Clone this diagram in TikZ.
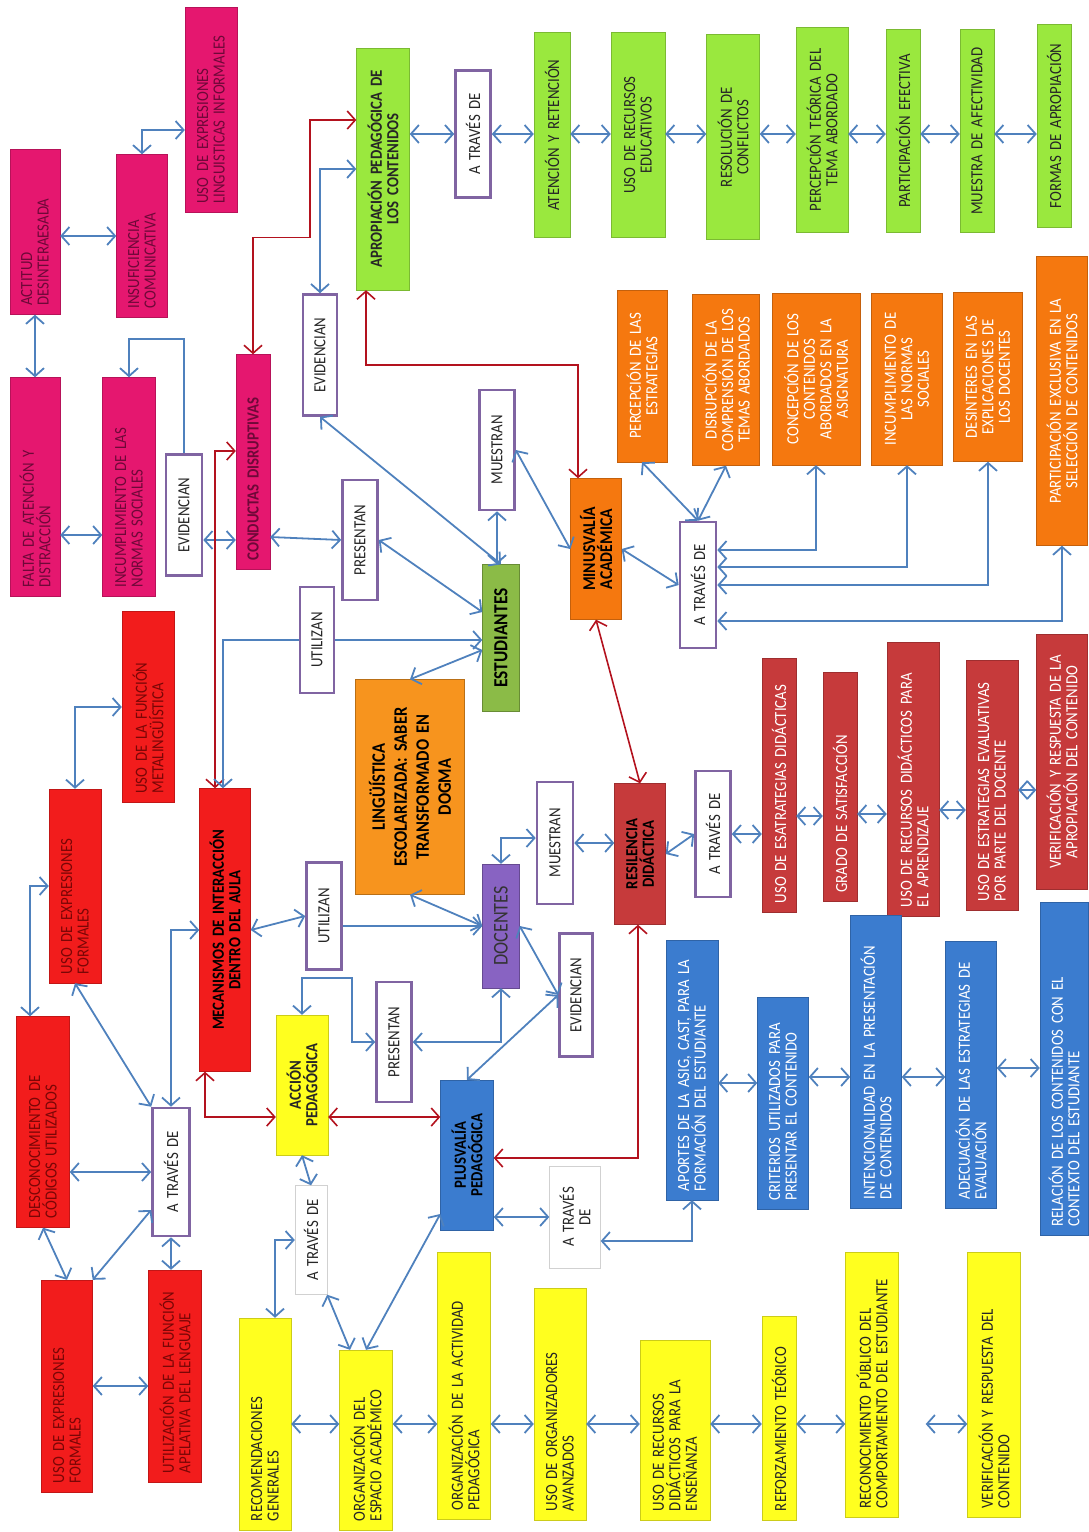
\documentclass[tikz,border=0pt]{standalone}
\usepackage{fontspec}
\setmainfont{Carlito}[FakeStretch=0.87, WordSpace=0.8]
\usetikzlibrary{arrows.meta}

\definecolor{pinkfill}{HTML}{E5176F}
\definecolor{pinktext}{HTML}{6E0838}
\definecolor{redfill}{HTML}{F21C1C}
\definecolor{redtext}{HTML}{7A0606}
\definecolor{limefill}{HTML}{9AE83E}
\definecolor{orangefill}{HTML}{F5780F}
\definecolor{brickfill}{HTML}{C63A3B}
\definecolor{bluefill}{HTML}{3B7CCF}
\definecolor{yellowfill}{HTML}{FFFF1F}
\definecolor{olivefill}{HTML}{8BBB47}
\definecolor{violetfill}{HTML}{8863C2}
\definecolor{amberfill}{HTML}{F7941E}
\definecolor{linkborder}{HTML}{8064A2}
\definecolor{arrowblue}{HTML}{4F81BD}
\definecolor{arrowred}{HTML}{B3121E}

\begin{document}
\begin{tikzpicture}[
    x=1pt, y=-1pt,
    every node/.style={font=\fontsize{17}{16.5}\selectfont, rotate=90, align=left, inner xsep=9pt, inner ysep=3pt},
    sz/.style 2 args={minimum height=#1pt, text width={#2pt-18pt}},
    strong/.style={font=\fontsize{17}{16.5}\selectfont\bfseries},
    pinkbox/.style={fill=pinkfill, draw=pinkfill!80!black, text=pinktext},
    redbox/.style={fill=redfill, draw=redfill!80!black, text=redtext},
    greenbox/.style={fill=limefill, draw=limefill!80!black, text=black!85, align=center},
    orangebox/.style={fill=orangefill, draw=orangefill!80!black, text=white, align=center},
    brickbox/.style={fill=brickfill, draw=brickfill!80!black, text=white},
    bluebox/.style={fill=bluefill, draw=bluefill!80!black, text=white},
    yellowbox/.style={fill=yellowfill, draw=yellowfill!80!black, text=black!85},
    linkbox/.style={fill=white, draw=linkborder, line width=2.6pt, text=black!85, align=center},
    plainbox/.style={fill=white, draw=black!18, text=black!85, align=center},
    flow/.style={{Straight Barb[length=8pt,width=18pt]}-{Straight Barb[length=8pt,width=18pt]}, line width=1.8pt, arrowblue},
    oneway/.style={-{Straight Barb[length=8pt,width=18pt]}, line width=1.8pt, arrowblue},
    redflow/.style={{Straight Barb[length=8pt,width=18pt]}-{Straight Barb[length=8pt,width=18pt]}, line width=1.6pt, arrowred}
]
\useasboundingbox (0,0) rectangle (1088,1532);

% magenta group
\node[pinkbox, sz={50}{165}] (actitud) at (35,232) {ACTITUD\\DESINTERAESADA};
\node[pinkbox, sz={51}{163}] (insuf) at (142,236) {INSUFICIENCIA\\COMUNICATIVA};
\node[pinkbox, sz={52}{205}] (usoinf) at (211,110) {USO DE EXPRESIONES\\LINGUISTICAS INFORMALES};
\node[pinkbox, sz={50}{219}] (falta) at (35,487) {FALTA DE ATENCIÓN Y\\DISTRACCIÓN};
\node[pinkbox, sz={53}{219}] (incump) at (129,487) {INCUMPLIMIENTO DE LAS\\NORMAS SOCIALES};
\node[pinkbox, strong, sz={34}{215}] (conductas) at (253,462) {CONDUCTAS DISRUPTIVAS};

% verbs
\node[linkbox, sz={36}{121}] (evid1) at (184,515) {EVIDENCIAN};
\node[linkbox, sz={34}{121}] (evid2) at (320,355) {EVIDENCIAN};
\node[linkbox, sz={35}{127}] (atr1) at (473,134) {A TRAVÉS DE};
\node[linkbox, sz={35}{120}] (muestran1) at (497,450) {MUESTRAN};
\node[linkbox, sz={35}{120}] (presentan1) at (360,540) {PRESENTAN};
\node[linkbox, sz={34}{106}] (utilizan1) at (317,640) {UTILIZAN};
\node[linkbox, sz={36}{126}] (atr3) at (698,585) {A TRAVÉS DE};
\node[linkbox, sz={36}{122}] (muestran2) at (555,843) {MUESTRAN};
\node[linkbox, sz={35}{126}] (atr4) at (713,834) {A TRAVÉS DE};
\node[linkbox, sz={33}{123}] (evid3) at (576,995) {EVIDENCIAN};
\node[linkbox, sz={35}{120}] (presentan2) at (394,1042) {PRESENTAN};
\node[linkbox, sz={35}{107}] (utilizan2) at (324,916) {UTILIZAN};
\node[linkbox, sz={37}{128}] (atr2) at (171,1172) {A TRAVÉS DE};
\node[plainbox, sz={51}{102}] (atr5) at (575,1217) {A TRAVÉS\\DE};
\node[plainbox, sz={32}{109}] (atr6) at (311,1240) {A TRAVÉS DE};

% green group
\node[greenbox, strong, sz={53}{242}] (apro) at (383,169) {APROPIACIÓN PEDAGÓGICA DE\\LOS CONTENIDOS};
\node[greenbox, sz={36}{205}] (atencion) at (552,135) {ATENCIÓN Y RETENCIÓN};
\node[greenbox, sz={54}{205}] (usorec) at (638,135) {USO DE RECURSOS\\EDUCATIVOS};
\node[greenbox, sz={53}{205}] (resol) at (733,137) {RESOLUCIÓN DE\\CONFLICTOS};
\node[greenbox, sz={52}{205}] (percteo) at (822,130) {PERCEPCIÓN TEÓRICA DEL\\TEMA ABORDADO};
\node[greenbox, sz={34}{203}] (partef) at (903,131) {PARTICIPACIÓN EFECTIVA};
\node[greenbox, sz={34}{203}] (muestraaf) at (977,131) {MUESTRA DE AFECTIVIDAD};
\node[greenbox, sz={34}{203}] (formas) at (1054,126) {FORMAS DE APROPIACIÓN};

% orange group
\node[orangebox, sz={50}{172}] (percest) at (642,376) {PERCEPCIÓN DE LAS\\ESTRATEGIAS};
\node[orangebox, sz={67}{171}] (disrup) at (726,380) {DISRUPCIÓN DE LA\\COMPRENSIÓN DE LOS\\TEMAS ABORDADOS};
\node[orangebox, sz={88}{172}] (concep) at (816,379) {CONCEPCIÓN DE LOS\\CONTENIDOS\\ABORDADOS EN LA\\ASIGNATURA};
\node[orangebox, sz={71}{172}] (incumpo) at (907,379) {INCUMPLIMIENTO DE\\LAS NORMAS\\SOCIALES};
\node[orangebox, sz={69}{169}] (desint) at (988,377) {DESINTERES EN LAS\\EXPLICACIONES DE\\LOS DOCENTES};
\node[orangebox, sz={51}{289}] (partex) at (1062,401) {PARTICIPACIÓN EXCLUSIVA EN LA\\SELECCIÓN DE CONTENIDOS};
\node[orangebox, text=black, font=\fontsize{18}{17}\selectfont\bfseries, sz={51}{141}] (minus) at (596,549) {MINUSVALÍA\\ACADÉMICA};

% centre
\node[fill=olivefill, draw=olivefill!75!black, align=center, font=\fontsize{20}{20}\selectfont\bfseries, sz={37}{147}] (estudiantes) at (501,638) {ESTUDIANTES};
\node[fill=amberfill, draw=amberfill!75!black, align=center, font=\fontsize{19}{22}\selectfont\bfseries, sz={109}{215}] (linguistica) at (410,787) {LINGÜÍSTICA\\ESCOLARIZADA: SABER\\TRANSFORMADO EN\\DOGMA};
\node[fill=violetfill, draw=violetfill!75!black, text=black!80, align=center, font=\fontsize{21}{21}\selectfont, sz={37}{124}] (docentes) at (501,926) {DOCENTES};
\node[brickbox, text=black, strong, align=center, sz={51}{141}] (resilencia) at (640,854) {RESILENCIA\\DIDÁCTICA};

% dark red group
\node[brickbox, sz={34}{254}] (esatrat) at (779,785) {USO DE ESATRATEGIAS DIDÁCTICAS};
\node[brickbox, sz={34}{229}] (grado) at (840,787) {GRADO DE SATISFACCIÓN};
\node[brickbox, sz={52}{274}] (recdid) at (913,779) {USO DE RECURSOS DIDÁCTICOS PARA\\EL APRENDIZAJE};
\node[brickbox, sz={52}{250}] (evalu) at (992,785) {USO DE ESTRATEGIAS EVALUATIVAS\\POR PARTE DEL DOCENTE};
\node[brickbox, align=center, sz={51}{255}] (verifap) at (1062,762) {VERIFICACIÓN Y RESPUESTA DE LA\\APROPIACIÓN DEL CONTENIDO};

% blue group
\node[bluebox, text=black, strong, align=center, sz={53}{150}] (plus) at (467,1155) {PLUSVALÍA\\PEDAGÓGICA};
\node[bluebox, sz={52}{260}] (aportes) at (692,1070) {APORTES DE LA ASIG, CAST, PARA LA\\FORMACIÓN DEL ESTUDIANTE};
\node[bluebox, sz={51}{212}] (criterios) at (783,1103) {CRITERIOS UTILIZADOS PARA\\PRESENTAR EL CONTENIDO};
\node[bluebox, sz={51}{293}] (intenc) at (876,1062) {INTENCIONALIDAD EN LA PRESENTACIÓN\\DE CONTENIDOS};
\node[bluebox, sz={51}{267}] (adecu) at (971,1075) {ADECUACIÓN DE LAS ESTRATEGIAS DE\\EVALUACIÓN};
\node[bluebox, sz={48}{333}] (relacion) at (1064,1069) {RELACIÓN DE LOS CONTENIDOS CON EL\\CONTEXTO DEL ESTUDIANTE};

% red group
\node[redbox, sz={52}{191}] (metaling) at (148,707) {USO DE LA FUNCIÓN\\METALINGÜÍSTICA};
\node[redbox, sz={52}{194}] (usoform1) at (75,886) {USO DE EXPRESIONES\\FORMALES};
\node[redbox, text=black, strong, align=center, sz={51}{283}] (mecan) at (225,930) {MECANISMOS DE INTERACCIÓN\\DENTRO DEL AULA};
\node[redbox, sz={53}{211}] (desconoc) at (43,1122) {DESCONOCIMIENTO DE\\CÓDIGOS UTILIZADOS};
\node[redbox, sz={51}{212}] (usoform2) at (67,1386) {USO DE EXPRESIONES\\FORMALES};
\node[redbox, sz={53}{212}] (apelat) at (175,1376) {UTILIZACIÓN DE LA FUNCIÓN\\APELATIVA DEL LENGUAJE};

% yellow group
\node[yellowbox, strong, align=center, sz={52}{140}] (accion) at (302,1085) {ACCIÓN\\PEDAGÓGICA};
\node[yellowbox, sz={52}{212}] (recom) at (265,1424) {RECOMENDACIONES\\GENERALES};
\node[yellowbox, sz={53}{180}] (orgesp) at (366,1440) {ORGANIZACIÓN DEL\\ESPACIO ACADÉMICO};
\node[yellowbox, sz={53}{267}] (orgact) at (464,1386) {ORGANIZACIÓN DE LA ACTIVIDAD\\PEDAGÓGICA};
\node[yellowbox, sz={52}{232}] (usoorg) at (560,1404) {USO DE ORGANIZADORES\\AVANZADOS};
\node[yellowbox, sz={70}{180}] (usorecen) at (675,1430) {USO DE RECURSOS\\DIDÁCTICOS PARA LA\\ENSEÑANZA};
\node[yellowbox, sz={34}{204}] (reforz) at (779,1418) {REFORZAMIENTO TEÓRICO};
\node[yellowbox, sz={53}{265}] (recon) at (872,1385) {RECONOCIMIENTO PÚBLICO DEL\\COMPORTAMIENTO DEL ESTUDIANTE};
\node[yellowbox, sz={53}{265}] (verifcont) at (994,1385) {VERIFICACIÓN Y RESPUESTA DEL\\CONTENIDO};

% connectors, top left
\draw[flow] (actitud.south |- insuf) -- (insuf.north);
\draw[flow] (insuf.east) |- ([yshift=-20pt]usoinf.north);
\draw[flow] (actitud) -- (falta);
\draw[flow] ([yshift=-48pt]falta.south) -- ([yshift=-48pt]incump.north);
\draw[oneway] (evid1.east) -- ++(0,-114) -| (incump.east);
\draw[flow] ([yshift=-25pt]evid1.south) -- ([yshift=-78pt]conductas.north);
\draw[redflow] ([xshift=-10pt]mecan.east) |- ([yshift=11pt]conductas.north);
\draw[redflow] (conductas.east) -- ++(0,-117) -- ++(57,0) |- ([yshift=49pt]apro.north);
\draw[flow] (evid2.east) |- (apro.north);
\draw[flow] (evid2.west) -- (estudiantes.east);

% green chain
\draw[flow] (apro.south |- atr1) -- (atr1.north);
\draw[flow] (atr1.south) -- (atencion.north |- atr1);
\draw[flow] (atencion.south |- atr1) -- (usorec.north |- atr1);
\draw[flow] (usorec.south |- atr1) -- (resol.north |- atr1);
\draw[flow] (resol.south |- atr1) -- (percteo.north |- atr1);
\draw[flow] (percteo.south |- atr1) -- (partef.north |- atr1);
\draw[flow] (partef.south |- atr1) -- (muestraaf.north |- atr1);
\draw[flow] (muestraaf.south |- atr1) -- (formas.north |- atr1);

% students
\draw[flow] (muestran1.west) -- (muestran1.west |- estudiantes.east);
\draw[flow] (muestran1.south) -- (minus.north);
\draw[flow] ([yshift=-75pt]conductas.south) -- (presentan1.north);
\draw[flow] (presentan1.south) -- ([yshift=26pt]estudiantes.north);
\draw[oneway] (utilizan1.south) -- (estudiantes.north |- utilizan1);
\draw[oneway] (utilizan1.north) -| ([xshift=-2pt]mecan.east);
\draw[flow] (linguistica.east) -- ([yshift=-12pt]estudiantes.north);
\draw[flow] (linguistica.west) -- (docentes.north);

% minusvalia
\draw[redflow] ([xshift=-17pt]apro.west) -- ++(0,75) -| ([xshift=-18pt]minus.east);
\draw[redflow] (minus.west) -- (resilencia.east);
\draw[flow] (minus.south) -- (atr3.north);
\draw[flow] (atr3.east) -- (percest.west);
\draw[flow] (atr3.east) -- (disrup.west);
\draw[flow] ([yshift=35pt]atr3.south) -| (concep.west);
\draw[flow] ([yshift=18pt]atr3.south) -| (incumpo.west);
\draw[flow] (atr3.south) -| (desint.west);
\draw[flow] ([yshift=-36pt]atr3.south) -| (partex.west);

% docentes and resilencia
\draw[oneway] (utilizan2.south |- docentes) -- (docentes.north);
\draw[flow] (mecan.south) -- (utilizan2.north);
\draw[flow] (docentes.east) |- ([yshift=5pt]muestran2.north);
\draw[flow] (muestran2.south) -- (resilencia.north |- muestran2);
\draw[flow] (resilencia.south) -- (atr4.north);
\draw[flow] (atr4.south) -- (esatrat.north |- atr4);
\draw[flow] ([yshift=-31pt]esatrat.south) -- ([yshift=-29pt]grado.north);
\draw[flow] ([yshift=-27pt]grado.south) -- ([yshift=-35pt]recdid.north);
\draw[flow] ([yshift=-31pt]recdid.south) -- ([yshift=-25pt]evalu.north);
\draw[flow] ([yshift=-5pt]evalu.south) -- ([yshift=-28pt]verifap.north);
\draw[flow] (docentes.south) -- (evid3.north);
\draw[flow] (evid3.north) -- (plus.east);
\draw[flow] (presentan2.south) -| (docentes.west);
\draw[flow] (accion.east) -- ++(0,-37) -- ++(50,0) |- (presentan2.north);

% red links round accion and plusvalia
\draw[redflow] ([xshift=-20pt]mecan.west) |- ([yshift=-32pt]accion.north);
\draw[redflow] ([yshift=-32pt]accion.south) -- ([yshift=38pt]plus.north);
\draw[redflow] ([yshift=-3pt]plus.south) -| ([xshift=-2pt]resilencia.west);

% blue chain
\draw[flow] ([yshift=-62pt]plus.south) -- (atr5.north);
\draw[flow] ([yshift=-24pt]atr5.south) -| (aportes.west);
\draw[flow] ([yshift=-13pt]aportes.south) -- ([yshift=20pt]criterios.north);
\draw[flow] ([yshift=26pt]criterios.south) -- ([yshift=-15pt]intenc.north);
\draw[flow] ([yshift=-15pt]intenc.south) -- ([yshift=-2pt]adecu.north);
\draw[flow] ([yshift=7pt]adecu.south) -- ([yshift=1pt]relacion.north);

% red cluster, left
\draw[flow] (usoform1.east) |- (metaling.north);
\draw[flow] (usoform1.north) -| ([xshift=-13pt]desconoc.east);
\draw[flow] (usoform1.west) -- (atr2.north east);
\draw[flow] (atr2.east) |- (mecan.north);
\draw[flow] (desconoc.south |- atr2) -- (atr2.north);
\draw[flow] ([yshift=-38pt]atr2.north) -- (usoform2.south east);
\draw[flow] (desconoc.west) -- (usoform2.east);
\draw[flow] (atr2.west) -- (atr2.west |- apelat.east);
\draw[flow] (usoform2.south) -- (apelat.north |- usoform2);

% yellow chain
\draw[flow] (accion.west) -- (atr6.east);
\draw[flow] (atr6.north) -| ([xshift=10pt]recom.east);
\draw[flow] (atr6.south west) -- ([xshift=-16pt]orgesp.east);
\draw[flow] ([yshift=-59pt]plus.north) -- (orgesp.east);
\draw[flow] (recom.south) -- (orgesp.north |- recom);
\draw[flow] (orgesp.south |- recom) -- (orgact.north |- recom);
\draw[flow] (orgact.south |- recom) -- (usoorg.north |- recom);
\draw[flow] (usoorg.south |- recom) -- (usorecen.north |- recom);
\draw[flow] (usorecen.south |- recom) -- (reforz.north |- recom);
\draw[flow] (reforz.south |- recom) -- (recon.north |- recom);
\draw[flow, shorten <=27pt] (recon.south |- recom) -- (verifcont.north |- recom);
\end{tikzpicture}
\end{document}
